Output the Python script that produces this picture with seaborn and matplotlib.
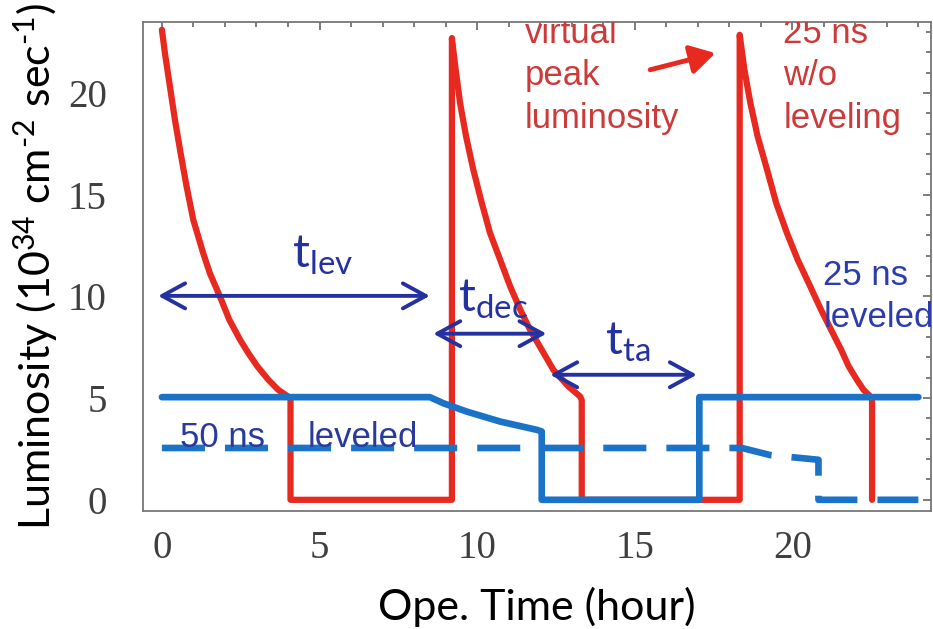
import numpy as np
import pandas as pd
import matplotlib
matplotlib.use("Agg")
import matplotlib.pyplot as plt
from matplotlib.ticker import MultipleLocator
import seaborn as sns

# ---------------- data ----------------
# 25 ns without leveling (red): three fills, each decaying from the peak
red_x = [0.0, 0.095, 0.254, 0.413, 0.593, 0.783, 0.995, 1.31, 1.52, 1.84,
         2.14, 2.48, 2.74, 3.03, 3.38, 3.69, 4.08,
         4.08, 9.2,
         9.2, 9.32, 9.46, 9.65, 9.88, 10.15, 10.41, 10.73, 11.05, 11.37,
         11.68, 12.05, 12.42, 12.90, 13.27, 13.32,
         13.32, 18.33,
         18.33, 18.48, 18.67, 18.90, 19.20, 19.49, 19.83, 20.17, 20.57,
         20.91, 21.23, 21.55, 21.79, 22.05, 22.26, 22.53,
         22.53]
red_y = [23.12, 21.97, 20.33, 18.69, 17.05, 15.41, 13.77, 12.13, 11.15, 10.0,
         8.85, 7.87, 7.22, 6.56, 5.90, 5.41, 5.0,
         0.0, 0.0,
         22.71, 21.15, 19.51, 17.87, 16.23, 14.59, 13.12, 11.81, 10.49, 9.35,
         8.36, 7.38, 6.39, 5.57, 5.08, 4.9,
         0.0, 0.0,
         22.87, 21.15, 19.51, 17.87, 16.23, 14.59, 13.12, 11.81, 10.49,
         9.35, 8.36, 7.38, 6.56, 5.90, 5.41, 5.0,
         0.0]

# 25 ns leveled (blue solid)
lev25_x = [0, 8.5, 8.93, 9.67, 10.73, 11.9, 12.05, 12.05, 17.05, 17.05, 24.0]
lev25_y = [5.05, 5.05, 4.75, 4.34, 3.85, 3.44, 3.36, 0, 0, 5.05, 5.05]

# 50 ns leveled (blue dashed)
lev50_x = [0, 18.4, 19.3, 20.83, 20.83, 24.0]
lev50_y = [2.55, 2.55, 2.2, 1.97, 0, 0]

x_ticks = [0, 5, 10, 15, 20]
y_ticks = [0, 5, 10, 15, 20]

# ---------------- style ----------------
sns.set_theme(style="white")
plt.rcParams["font.family"] = ["Lato", "DejaVu Sans"]
plt.rcParams["mathtext.fontset"] = "custom"
plt.rcParams["mathtext.rm"] = "Lato"
plt.rcParams["mathtext.it"] = "Lato:italic"
plt.rcParams["mathtext.bf"] = "Lato:bold"
plt.rcParams["lines.scale_dashes"] = False

RED = "#e8291f"
BLUE = "#1b73c8"
NAVY = "#2431a0"
TXT_RED = "#cc3a3a"
TXT_BLUE = "#2b3cae"

fig = plt.figure(figsize=(9.33, 6.29), dpi=100)
ax = fig.add_axes([143 / 933, 1 - 511 / 629, (931 - 143) / 933, (511 - 22) / 629])

df_red = pd.DataFrame({"x": red_x, "y": red_y})
df_25 = pd.DataFrame({"x": lev25_x, "y": lev25_y})
df_50 = pd.DataFrame({"x": lev50_x, "y": lev50_y})

sns.lineplot(data=df_red, x="x", y="y", sort=False, estimator=None, ax=ax,
             color=RED, lw=4.5, zorder=2)
sns.lineplot(data=df_25, x="x", y="y", sort=False, estimator=None, ax=ax,
             color=BLUE, lw=4.8, zorder=3)
sns.lineplot(data=df_50, x="x", y="y", sort=False, estimator=None, ax=ax,
             color=BLUE, lw=4.8, zorder=3, linestyle=(0, (31, 14.4)))

ax.set_xlim(-0.6, 24.4)
ax.set_ylim(-0.55, 23.5)

ax.set_xticks(x_ticks)
ax.set_yticks(y_ticks)
ax.xaxis.set_minor_locator(MultipleLocator(1))
ax.yaxis.set_minor_locator(MultipleLocator(1))
ax.tick_params(which="both", direction="in", top=True, right=True,
               color="#666666", width=1.2)
ax.tick_params(which="major", length=6)
ax.tick_params(which="minor", length=3.5)
ax.tick_params(axis="x", which="major", pad=14)
ax.tick_params(axis="y", which="major", pad=26)
for lab in ax.get_xticklabels() + ax.get_yticklabels():
    lab.set_fontfamily("Liberation Serif")
    lab.set_fontsize(28)
    lab.set_color("#3f3f3f")
for s in ax.spines.values():
    s.set_color("#777777")
    s.set_linewidth(1.3)

ax.set_xlabel("Ope. Time (hour)", fontsize=31, color="black", labelpad=14)
ax.set_ylabel(r"Luminosity (10$^{34}$ cm$^{\text{-2}}$ sec$^{\text{-1}}$)",
              fontsize=31, color="black", labelpad=6)

# ---------------- annotations ----------------
def dbl_arrow(x0, x1, y):
    ax.annotate("", xy=(x1, y), xytext=(x0, y),
                arrowprops=dict(arrowstyle="<->, head_length=0.55, head_width=0.3",
                                mutation_scale=30, color=NAVY, lw=2.8,
                                shrinkA=0, shrinkB=0), zorder=4)

dbl_arrow(-0.12, 8.5, 10.03)
dbl_arrow(8.61, 12.2, 8.17)
dbl_arrow(12.32, 16.97, 6.15)

ax.text(4.13, 11.4, r"$\mathrm{t_{lev}}$", color=NAVY, fontsize=34,
        ha="left", va="baseline")
ax.text(9.4, 9.25, r"$\mathrm{t_{dec}}$", color=NAVY, fontsize=34,
        ha="left", va="baseline")
ax.text(14.06, 7.13, r"$\mathrm{t_{ta}}$", color=NAVY, fontsize=34,
        ha="left", va="baseline")

ax.annotate("", xy=(17.56, 21.97), xytext=(15.49, 21.15),
            arrowprops=dict(arrowstyle="-|>, head_length=0.6, head_width=0.35",
                            mutation_scale=25, color=RED, lw=3.5,
                            shrinkA=0, shrinkB=0), zorder=4)

# multi-line texts: y is the baseline of the last line
ax.text(11.52, 18.3, "virtual\npeak\nluminosity", color=TXT_RED, fontsize=25,
        family="Liberation Sans", ha="left", va="baseline", linespacing=1.36,
        clip_on=True)
ax.text(19.71, 18.3, "25 ns\nw/o\nleveling", color=TXT_RED, fontsize=25,
        family="Liberation Sans", ha="left", va="baseline", linespacing=1.36,
        clip_on=True)
ax.text(20.98, 8.5, "25 ns\nleveled", color=TXT_BLUE, fontsize=25,
        family="Liberation Sans", ha="left", va="baseline", linespacing=1.36)
ax.text(0.57, 2.6, "50 ns", color="#2a3a9c", fontsize=25,
        family="Liberation Sans", ha="left", va="baseline", zorder=5)
ax.text(4.63, 2.6, "leveled", color="#2a3a9c", fontsize=25,
        family="Liberation Sans", ha="left", va="baseline", zorder=5)

fig.savefig("out.png", dpi=100)
